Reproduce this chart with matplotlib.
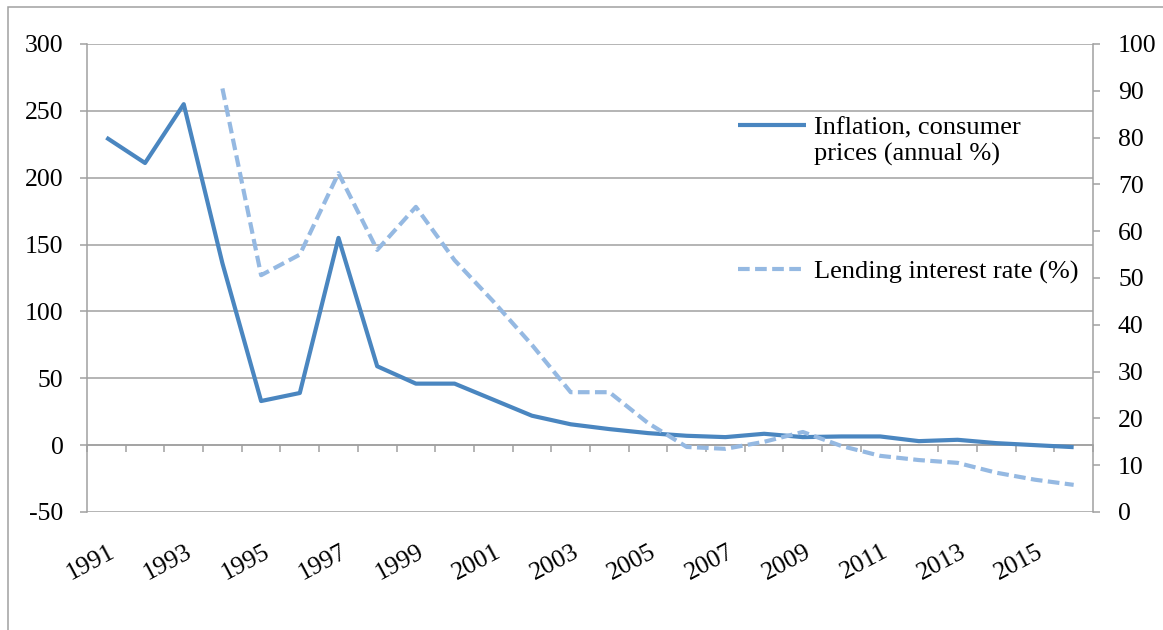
import numpy as np
import matplotlib
matplotlib.use("Agg")
import matplotlib.pyplot as plt
from matplotlib.legend_handler import HandlerLine2D
from matplotlib.patches import Rectangle

plt.rcParams['font.family'] = ['Liberation Serif', 'DejaVu Serif']

years = list(range(1991, 2017))
inflation = [230, 211, 255, 136, 33, 39, 155, 59, 46, 46, 34, 22, 15.6, 12, 9, 7,
             6, 8.5, 6, 6.5, 6.5, 3, 4, 1.5, 0, -1.5]
lending = [np.nan, np.nan, np.nan, 90.5, 50.6, 55, 72.4, 56, 65.2, 53.8, 45, 35.7,
           25.6, 25.6, 19, 13.9, 13.5, 15, 17.1, 14.1, 12, 11.1, 10.5, 8.4, 6.9, 5.8]
label_inf = "Inflation, consumer\nprices (annual %)"
label_lend = "Lending interest rate (%)"
left_ticks = list(range(-50, 301, 50))
right_ticks = list(range(0, 101, 10))

W, H = 1163, 630
fig = plt.figure(figsize=(W / 100, H / 100), dpi=100)
ax = fig.add_axes([87 / W, 1 - 512 / H, 1006 / W, 468 / H])
ax2 = ax.twinx()

grey = '#A0A0A0'
c_inf = '#4A86C0'
c_lend = '#95B9E2'
fs = 18.5
fs_leg = 19

x = np.arange(len(years))
l1, = ax.plot(x, inflation, color=c_inf, lw=3.0, solid_capstyle='butt', zorder=3)
l2, = ax2.plot(x, lending, color=c_lend, lw=3.0, dashes=(2.8, 1.3),
               dash_capstyle='butt', zorder=3)

ax.set_xlim(-0.5, len(years) - 0.5)
ax.set_ylim(-50, 300)
ax2.set_ylim(0, 100)
ax.set_yticks(left_ticks)
ax.set_yticklabels([str(t) for t in left_ticks])
ax2.set_yticks(right_ticks)
ax2.set_yticklabels([str(t) for t in right_ticks])

ax.yaxis.grid(True, color=grey, lw=1.1)
ax.set_axisbelow(True)
ax.spines['top'].set_visible(False)
ax2.spines['top'].set_visible(False)
ax.spines['right'].set_visible(False)
ax.spines['bottom'].set_position(('data', 0))
for sp in [ax.spines['left'], ax.spines['bottom'], ax2.spines['right']]:
    sp.set_color(grey)
    sp.set_linewidth(1.1)
ax2.spines['left'].set_visible(False)
ax2.spines['bottom'].set_visible(False)

ax.set_xticks(np.arange(-0.5, len(years)))
ax.tick_params(axis='x', direction='out', length=5, width=1.1, color=grey,
               labelbottom=False)
ax.tick_params(axis='y', direction='out', length=5, width=1.1, color=grey,
               labelsize=fs, pad=12)
ax2.tick_params(axis='y', direction='out', length=5, width=1.1, color=grey,
                labelsize=fs, pad=13)

trans = ax.get_xaxis_transform()
for i, yr in enumerate(years):
    if i % 2 == 0:
        ax.text(i + 0.04, -0.061, str(yr), transform=trans, rotation=28,
                rotation_mode='anchor', ha='right', va='top', fontsize=fs)


class ShiftHandler(HandlerLine2D):
    def __init__(self, shift=0, **kw):
        super().__init__(**kw)
        self.shift = shift

    def create_artists(self, legend, orig_handle, xdescent, ydescent, width,
                       height, fontsize, trans):
        arts = super().create_artists(legend, orig_handle, xdescent, ydescent,
                                      width, height, fontsize, trans)
        for a in arts:
            a.set_ydata(np.asarray(a.get_ydata(), dtype=float) + self.shift)
        return arts


leg1 = ax2.legend([l1], [label_inf], loc='center left',
                  bbox_to_anchor=(0.647, 0.792), frameon=False, fontsize=fs_leg,
                  handlelength=2.6, handletextpad=0.3, borderpad=0,
                  borderaxespad=0,
                  handler_map={l1: ShiftHandler(shift=11)})
ax2.add_artist(leg1)
ax2.legend([l2], [label_lend], loc='center left',
           bbox_to_anchor=(0.647, 0.513), frameon=False, fontsize=fs_leg,
           handlelength=2.6, handletextpad=0.3, borderpad=0, borderaxespad=0)

fig.add_artist(Rectangle((8 / W, -1), 10, 1 + (H - 7) / H, transform=fig.transFigure,
                         fill=False, edgecolor=grey, lw=1.1))

fig.savefig('out.png', dpi=100)
